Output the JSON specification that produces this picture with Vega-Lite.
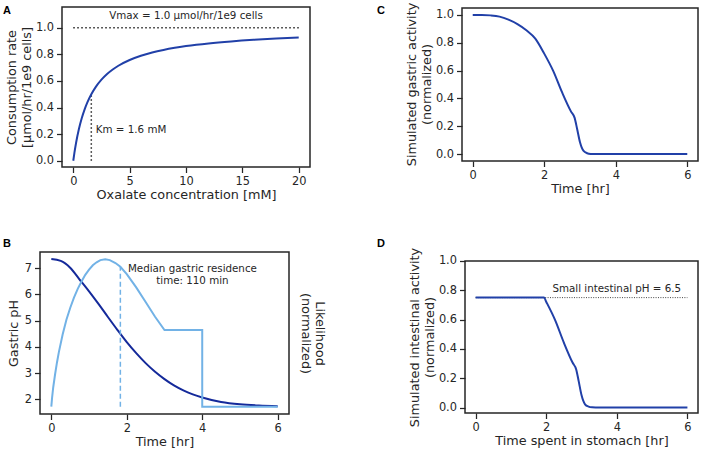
{
  "$schema": "https://vega.github.io/schema/vega-lite/v6.json",
  "autosize": {"type": "pad"},
  "padding": {"left": 2, "top": 2, "right": 0, "bottom": 0},
  "background": "white",
  "datasets": {
    "mm": [
      {"x": 0, "y": 0}, {"x": 0.1, "y": 0.0588}, {"x": 0.25, "y": 0.1351},
      {"x": 0.5, "y": 0.2381}, {"x": 0.75, "y": 0.3191}, {"x": 1, "y": 0.3846},
      {"x": 1.25, "y": 0.4386}, {"x": 1.6, "y": 0.5}, {"x": 2, "y": 0.5556},
      {"x": 2.5, "y": 0.6098}, {"x": 3, "y": 0.6522}, {"x": 3.5, "y": 0.6863},
      {"x": 4, "y": 0.7143}, {"x": 5, "y": 0.7576}, {"x": 6, "y": 0.7895},
      {"x": 7, "y": 0.814}, {"x": 8, "y": 0.8333}, {"x": 9, "y": 0.8491},
      {"x": 10, "y": 0.8621}, {"x": 12, "y": 0.8824}, {"x": 14, "y": 0.8974},
      {"x": 16, "y": 0.9091}, {"x": 18, "y": 0.9184}, {"x": 20, "y": 0.9259}
    ],
    "ph": [
      {"t": 0, "ph": 7.35}, {"t": 0.25, "ph": 7.28}, {"t": 0.5, "ph": 7.02}, {"t": 0.75, "ph": 6.57},
      {"t": 1.0, "ph": 6.12}, {"t": 1.25, "ph": 5.64}, {"t": 1.5, "ph": 5.14}, {"t": 1.75, "ph": 4.65},
      {"t": 2.0, "ph": 4.18}, {"t": 2.25, "ph": 3.76}, {"t": 2.5, "ph": 3.38}, {"t": 2.75, "ph": 3.05},
      {"t": 3.0, "ph": 2.77}, {"t": 3.25, "ph": 2.53}, {"t": 3.5, "ph": 2.34}, {"t": 3.75, "ph": 2.19},
      {"t": 4.0, "ph": 2.07}, {"t": 4.5, "ph": 1.9}, {"t": 5.0, "ph": 1.81}, {"t": 5.5, "ph": 1.764},
      {"t": 6.0, "ph": 1.74}
    ],
    "lik": [
      {"o": 0, "t": 0, "L": 0}, {"o": 1, "t": 0.02, "L": 0.06}, {"o": 2, "t": 0.05, "L": 0.13},
      {"o": 3, "t": 0.1, "L": 0.22}, {"o": 4, "t": 0.15, "L": 0.3}, {"o": 5, "t": 0.2, "L": 0.37},
      {"o": 6, "t": 0.3, "L": 0.49}, {"o": 7, "t": 0.4, "L": 0.59}, {"o": 8, "t": 0.5, "L": 0.67},
      {"o": 9, "t": 0.6, "L": 0.74}, {"o": 10, "t": 0.7, "L": 0.8}, {"o": 11, "t": 0.8, "L": 0.85},
      {"o": 12, "t": 0.9, "L": 0.895}, {"o": 13, "t": 1.0, "L": 0.93}, {"o": 14, "t": 1.1, "L": 0.96},
      {"o": 15, "t": 1.2, "L": 0.98}, {"o": 16, "t": 1.3, "L": 0.995}, {"o": 17, "t": 1.43, "L": 1.0},
      {"o": 18, "t": 1.55, "L": 0.995}, {"o": 19, "t": 1.7, "L": 0.975}, {"o": 20, "t": 1.83, "L": 0.95},
      {"o": 21, "t": 2.0, "L": 0.9}, {"o": 22, "t": 2.25, "L": 0.81}, {"o": 23, "t": 2.5, "L": 0.71},
      {"o": 24, "t": 2.75, "L": 0.61}, {"o": 25, "t": 3.0, "L": 0.52}, {"o": 26, "t": 4.0, "L": 0.52},
      {"o": 27, "t": 4.0, "L": 0.0}, {"o": 28, "t": 6.0, "L": 0.0}
    ],
    "gastric": [
      {"t": 0, "a": 1.0}, {"t": 0.25, "a": 1.0}, {"t": 0.5, "a": 0.997}, {"t": 0.75, "a": 0.988},
      {"t": 1.0, "a": 0.966}, {"t": 1.25, "a": 0.934}, {"t": 1.5, "a": 0.89}, {"t": 1.75, "a": 0.83},
      {"t": 2.0, "a": 0.722}, {"t": 2.25, "a": 0.598}, {"t": 2.5, "a": 0.443}, {"t": 2.75, "a": 0.305},
      {"t": 2.85, "a": 0.26}, {"t": 2.92, "a": 0.18}, {"t": 3.0, "a": 0.085}, {"t": 3.1, "a": 0.022},
      {"t": 3.2, "a": 0.006}, {"t": 3.3, "a": 0.001}, {"t": 3.4, "a": 0}, {"t": 6.0, "a": 0}
    ],
    "intestinal": [
      {"t": 0, "a": 0.75}, {"t": 1.0, "a": 0.75}, {"t": 1.94, "a": 0.75}, {"t": 2.0, "a": 0.722},
      {"t": 2.25, "a": 0.598}, {"t": 2.5, "a": 0.443}, {"t": 2.75, "a": 0.305}, {"t": 2.85, "a": 0.26},
      {"t": 2.92, "a": 0.18}, {"t": 3.0, "a": 0.085}, {"t": 3.1, "a": 0.022}, {"t": 3.2, "a": 0.006},
      {"t": 3.3, "a": 0.001}, {"t": 3.4, "a": 0}, {"t": 6.0, "a": 0}
    ]
  },
  "config": {
    "view": {"stroke": null},
    "axis": {
      "domain": false, "grid": false, "tickSize": 5.5, "tickWidth": 1.25, "tickColor": "#262626",
      "labelFont": "DejaVu Sans", "labelFontSize": 11.4, "labelColor": "#262626", "labelPadding": 3,
      "labelFlush": false, "labelOverlap": false,
      "titleFont": "DejaVu Sans", "titleFontSize": 12.8, "titleFontWeight": "normal", "titleColor": "#262626",
      "titleLineHeight": 14.5
    },
    "axisX": {"titlePadding": 2},
    "axisY": {"titlePadding": 2},
    "text": {"font": "DejaVu Sans", "fontSize": 10.3, "color": "#262626"}
  },
  "bounds": "flush",
  "align": "each",
  "columns": 2,
  "spacing": {"row": 85, "column": 152},
  "concat": [
    {
      "width": 270, "height": 160,
      "encoding": {
        "x": {"field": "x", "type": "quantitative", "scale": {"domain": [-2.9516, 21], "nice": false, "zero": false},
              "axis": {"values": [0, 5, 10, 15, 20], "title": "Oxalate concentration [mM]", "titleX": 146}},
        "y": {"field": "y", "type": "quantitative", "scale": {"domain": [-0.047, 1.156], "nice": false, "zero": false},
              "axis": {"values": [0, 0.2, 0.4, 0.6, 0.8, 1.0], "format": ".1f", "offset": -22, "title": ["Consumption rate", "[µmol/hr/1e9 cells]"]}}
      },
      "layer": [
        {
          "data": {"values": [{"x": -1, "x2": 21, "y": -0.047, "y2": 1.156}]},
          "mark": {"type": "rect", "fillOpacity": 0, "stroke": "#262626", "strokeWidth": 1.5},
          "encoding": {"x2": {"field": "x2"}, "y2": {"field": "y2"}}
        },
        {
          "data": {"values": [{"x": 0, "x2": 20, "y": 1}]},
          "mark": {"type": "rule", "strokeDash": [1.5, 2.5], "strokeWidth": 1.5, "color": "#262626"},
          "encoding": {"x2": {"field": "x2"}}
        },
        {
          "data": {"values": [{"x": 1.6, "y": 0, "y2": 0.5}]},
          "mark": {"type": "rule", "strokeDash": [1.5, 2.5], "strokeWidth": 1.5, "color": "#262626"},
          "encoding": {"y2": {"field": "y2"}}
        },
        {
          "data": {"name": "mm"},
          "mark": {"type": "line", "color": "#2140a8", "strokeWidth": 2, "interpolate": "monotone"},
          "encoding": {}
        },
        {
          "data": {"values": [{"x": 10, "y": 1.085, "label": "Vmax = 1.0 µmol/hr/1e9 cells"}]},
          "mark": {"type": "text", "align": "center", "baseline": "middle"},
          "encoding": {"text": {"field": "label"}}
        },
        {
          "data": {"values": [{"x": 2.0, "y": 0.23, "label": "Km = 1.6 mM"}]},
          "mark": {"type": "text", "align": "left", "baseline": "middle"},
          "encoding": {"text": {"field": "label"}}
        },
        {
          "data": {"values": [{"x": -6.234, "y": 1.105, "label": "A"}]},
          "mark": {"type": "text", "align": "left", "baseline": "alphabetic", "font": "Liberation Sans", "fontWeight": "bold", "fontSize": 11, "color": "#000000"},
          "encoding": {"text": {"field": "label"}}
        }
      ]
    },
    {
      "width": 236, "height": 154,
      "encoding": {
        "x": {"field": "t", "type": "quantitative", "scale": {"domain": [-0.3, 6.3], "nice": false, "zero": false},
              "axis": {"values": [0, 2, 4, 6], "title": "Time [hr]"}},
        "y": {"field": "a", "type": "quantitative", "scale": {"domain": [-0.05, 1.0572], "nice": false, "zero": false},
              "axis": {"values": [0, 0.2, 0.4, 0.6, 0.8, 1.0], "format": ".1f", "title": ["Simulated gastric activity", "(normalized)"]}}
      },
      "layer": [
        {
          "data": {"values": [{"t": -0.3, "t2": 6.3, "a": -0.05, "a2": 1.05}]},
          "mark": {"type": "rect", "fillOpacity": 0, "stroke": "#262626", "strokeWidth": 1.5},
          "encoding": {"x2": {"field": "t2"}, "y2": {"field": "a2"}}
        },
        {
          "data": {"name": "gastric"},
          "mark": {"type": "line", "color": "#2140a8", "strokeWidth": 2, "interpolate": "monotone"},
          "encoding": {}
        },
        {
          "data": {"values": [{"t": -2.677, "a": 1.0083, "label": "C"}]},
          "mark": {"type": "text", "align": "left", "baseline": "alphabetic", "font": "Liberation Sans", "fontWeight": "bold", "fontSize": 11, "color": "#000000"},
          "encoding": {"text": {"field": "label"}}
        }
      ]
    },
    {
      "width": 249, "height": 162,
      "layer": [
        {
          "encoding": {
            "x": {"field": "t", "type": "quantitative", "scale": {"domain": [-0.3, 6.3], "nice": false, "zero": false},
                  "axis": {"values": [0, 2, 4, 6], "title": "Time [hr]"}},
            "y": {"field": "ph", "type": "quantitative", "scale": {"domain": [1.44, 7.62], "nice": false, "zero": false},
                  "axis": {"orient": "left", "values": [2, 3, 4, 5, 6, 7], "title": "Gastric pH", "titlePadding": 4}}
          },
          "layer": [
            {
              "data": {"values": [{"t": -0.3, "t2": 6.3, "ph": 1.44, "ph2": 7.62}]},
              "mark": {"type": "rect", "fillOpacity": 0, "stroke": "#262626", "strokeWidth": 1.5},
              "encoding": {"x2": {"field": "t2"}, "y2": {"field": "ph2"}}
            },
            {
              "data": {"name": "ph"},
              "mark": {"type": "line", "color": "#14299a", "strokeWidth": 2, "interpolate": "monotone"},
              "encoding": {}
            },
            {
              "data": {"values": [{"t": 3.74, "ph": 6.99, "label": "Median gastric residence\ntime: 110 min"}]},
              "mark": {"type": "text", "align": "center", "baseline": "middle", "lineBreak": "\n", "lineHeight": 12},
              "encoding": {"text": {"field": "label"}}
            },
            {
              "data": {"values": [{"t": -1.281, "ph": 7.811, "label": "B"}]},
              "mark": {"type": "text", "align": "left", "baseline": "alphabetic", "font": "Liberation Sans", "fontWeight": "bold", "fontSize": 11, "color": "#000000"},
              "encoding": {"text": {"field": "label"}}
            }
          ]
        },
        {
          "encoding": {
            "x": {"field": "t", "type": "quantitative"},
            "y": {"field": "L", "type": "quantitative", "scale": {"domain": [-0.05, 1.05], "nice": false, "zero": false},
                  "axis": {"orient": "right", "labels": false, "ticks": false, "title": ["Likelihood", "(normalized)"], "titlePadding": 9}}
          },
          "layer": [
            {
              "data": {"name": "lik"},
              "mark": {"type": "line", "color": "#72b2e6", "strokeWidth": 2},
              "encoding": {"order": {"field": "o", "type": "quantitative"}}
            },
            {
              "data": {"values": [{"t": 1.83, "L": 0, "L2": 0.95}]},
              "mark": {"type": "rule", "color": "#72b2e6", "strokeDash": [5, 3], "strokeWidth": 1.5},
              "encoding": {"y2": {"field": "L2"}}
            }
          ]
        }
      ],
      "resolve": {"scale": {"y": "independent"}}
    },
    {
      "width": 236, "height": 161,
      "encoding": {
        "x": {"field": "t", "type": "quantitative", "scale": {"domain": [-0.385, 6.3], "nice": false, "zero": false},
              "axis": {"values": [0, 2, 4, 6], "title": "Time spent in stomach [hr]", "titleX": 119.5}},
        "y": {"field": "a", "type": "quantitative", "scale": {"domain": [-0.0375, 1.0614], "nice": false, "zero": false},
              "axis": {"values": [0, 0.2, 0.4, 0.6, 0.8, 1.0], "format": ".1f", "offset": -3, "titleY": 85, "title": ["Simulated intestinal activity", "(normalized)"]}}
      },
      "layer": [
        {
          "data": {"values": [{"t": -0.3, "t2": 6.3, "a": -0.0375, "a2": 1.0}]},
          "mark": {"type": "rect", "fillOpacity": 0, "stroke": "#262626", "strokeWidth": 1.5},
          "encoding": {"x2": {"field": "t2"}, "y2": {"field": "a2"}}
        },
        {
          "data": {"values": [{"t": 0, "t2": 6, "a": 0.75}]},
          "mark": {"type": "rule", "strokeDash": [1, 1.4], "strokeWidth": 1, "color": "#444444"},
          "encoding": {"x2": {"field": "t2"}}
        },
        {
          "data": {"name": "intestinal"},
          "mark": {"type": "line", "color": "#2140a8", "strokeWidth": 2, "interpolate": "monotone"},
          "encoding": {}
        },
        {
          "data": {"values": [{"t": 4.0, "a": 0.81, "label": "Small intestinal pH = 6.5"}]},
          "mark": {"type": "text", "align": "center", "baseline": "middle"},
          "encoding": {"text": {"field": "label"}}
        },
        {
          "data": {"values": [{"t": -2.793, "a": 1.0955, "label": "D"}]},
          "mark": {"type": "text", "align": "left", "baseline": "alphabetic", "font": "Liberation Sans", "fontWeight": "bold", "fontSize": 11, "color": "#000000"},
          "encoding": {"text": {"field": "label"}}
        }
      ]
    }
  ]
}
